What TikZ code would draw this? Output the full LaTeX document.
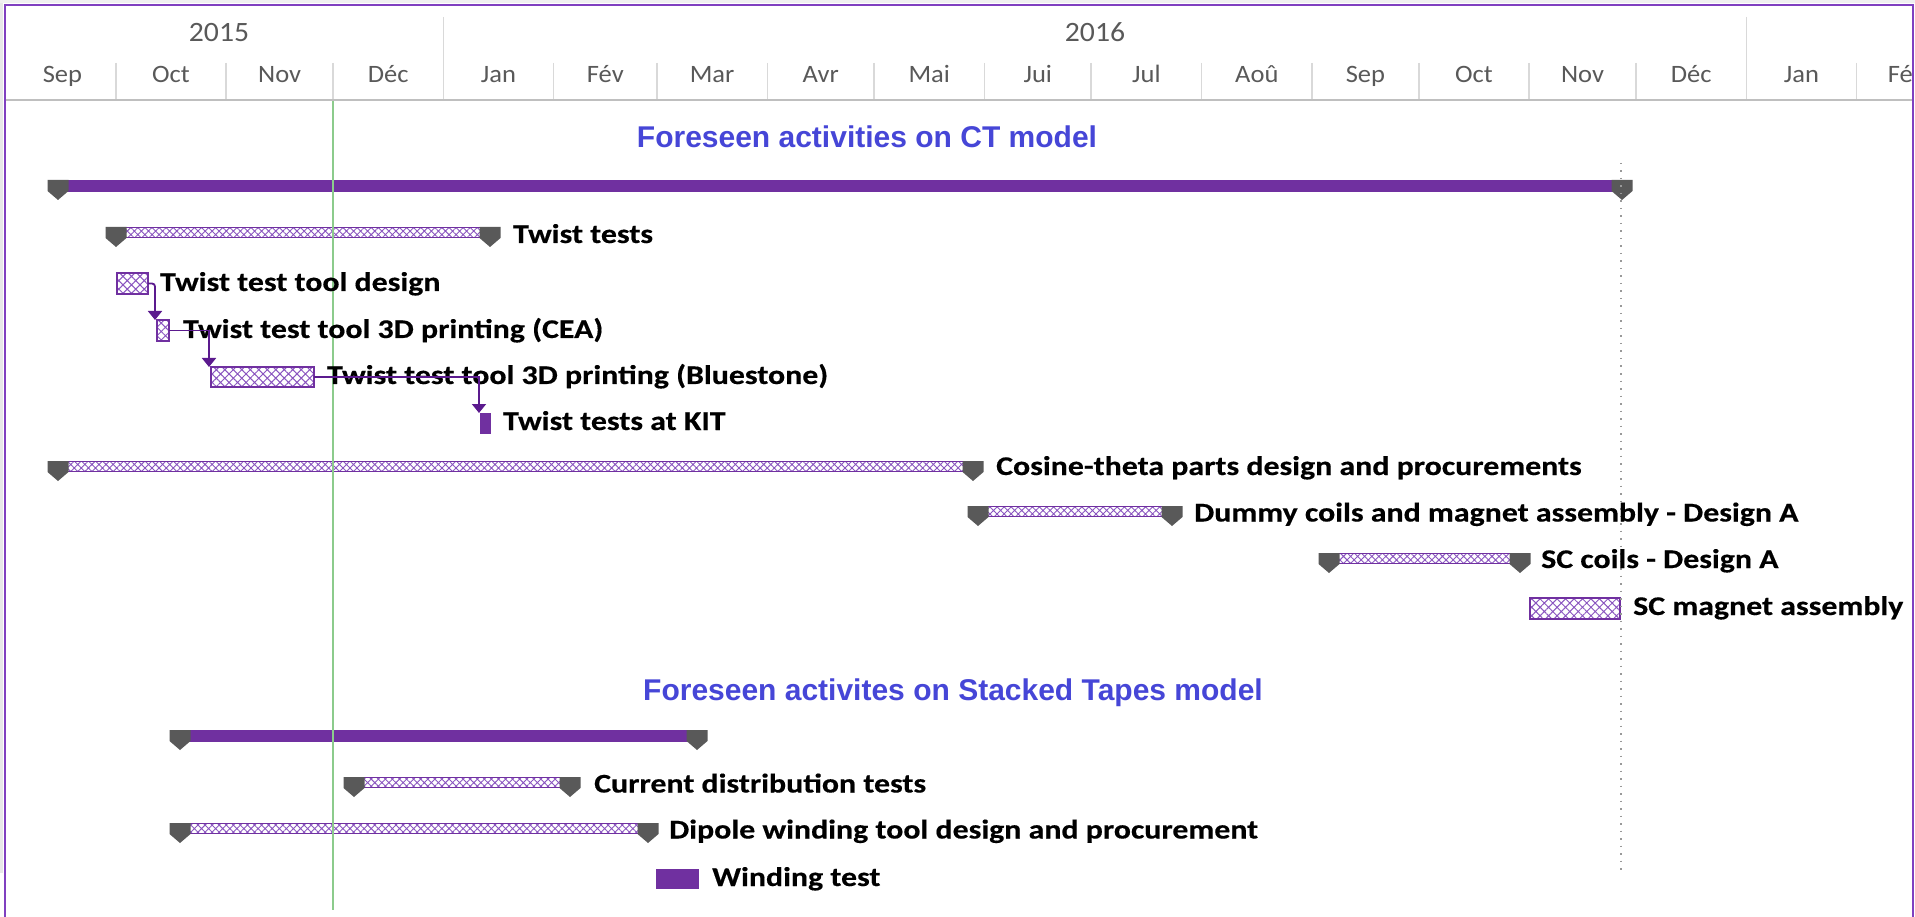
\documentclass[tikz,border=0pt]{standalone}
\usepackage{fontspec}
\setmainfont{Carlito}
\newfontfamily\arialf{Liberation Sans}
\newfontfamily\lblfont{Carlito}[FakeStretch=1.18,FakeBold=0.4]
\newfontfamily\hdrfont{Carlito}[FakeStretch=1.06]
\usetikzlibrary{patterns.meta,arrows.meta,calc}
\definecolor{pur}{HTML}{7030A0}
\definecolor{hatchc}{HTML}{8A55C0}
\definecolor{markc}{HTML}{595959}
\definecolor{connc}{HTML}{5B1A8E}
\definecolor{titlec}{RGB}{70,70,215}
\definecolor{hdrtxt}{HTML}{595959}
\definecolor{sepc}{HTML}{D9D9D9}
\definecolor{framec}{HTML}{8040C0}
\definecolor{todayc}{HTML}{8CCB8C}
\tikzset{
  sumbar/.style={fill=pur, draw=none, inner sep=0pt, outer sep=0pt},
  hatchbar/.style={draw=pur, line width=1.2pt, pattern={Hatch[distance=5pt,angle=45,line width=0.9pt]}, pattern color=hatchc, inner sep=0pt, outer sep=0pt},
  hatchbox/.style={draw=pur, line width=1.5pt, pattern={Hatch[distance=6pt,angle=45,line width=1pt]}, pattern color=hatchc, inner sep=0pt, outer sep=0pt},
  solidbox/.style={fill=pur, draw=none, inner sep=0pt, outer sep=0pt},
  lbl/.style={font=\lblfont\bfseries\fontsize{27}{30}\selectfont, anchor=base west, inner sep=0pt, text=black},
  ttl/.style={font=\arialf\bfseries\fontsize{30}{34}\selectfont, anchor=base, inner sep=0pt, text=titlec},
  month/.style={font=\hdrfont\fontsize{25}{30}\selectfont, anchor=base, inner sep=0pt, text=hdrtxt},
  yearlbl/.style={font=\hdrfont\fontsize{28}{30}\selectfont, anchor=base, inner sep=0pt, text=hdrtxt},
  conn/.style={draw=connc, line width=1.8pt, -{Triangle[width=14pt,length=9pt]}},
}
\newcommand\GMark[2]{%
  \fill[markc] ({#1-10.5},{#2}) -- ({#1+10.5},{#2}) -- ({#1+10.5},{#2+11}) -- ({#1},{#2+20}) -- ({#1-10.5},{#2+11}) -- cycle;}
\newcommand\GSum[4]{%
  \node[sumbar, minimum width={(#3)-(#2)}, minimum height=12, anchor=north west] (#1) at (#2,#4) {};
  \GMark{#2}{#4}\GMark{#3}{#4}}
\newcommand\GHat[4]{%
  \node[hatchbar, minimum width={(#3)-(#2)}, minimum height=10, anchor=north west] (#1) at (#2,{#4+0.5}) {};
  \GMark{#2}{#4}\GMark{#3}{#4}}
\newcommand\GBox[6]{%
  \node[#1, minimum width={(#4)-(#3)}, minimum height=#6, anchor=north west] (#2) at (#3,#5) {};}
\begin{document}
\begin{tikzpicture}[x=1pt,y=-1pt]
\useasboundingbox (0,0) rectangle (1915,917);
\fill[white] (0,0) rectangle (1915,917);
% shadow and frame
\fill[gray!18] (0,0) rectangle (3,873);
\fill[gray!12] (0,0) rectangle (1915,3);
\draw[framec, line width=2pt] (5,917) -- (5,5) -- (1913,5) -- (1913,917);
% header
\begin{scope}
\clip (6,6) rectangle (1912,101);
\foreach \a/\b/\m [count=\i] in {9/115.8/Sep,115.8/226.2/Oct,226.2/333/Nov,333/443.3/Déc,443.3/553.7/Jan,553.7/656.9/Fév,656.9/767.3/Mar,767.3/874.1/Avr,874.1/984.4/Mai,984.4/1091.2/Jui,1091.2/1201.6/Jul,1201.6/1312/Aoû,1312/1418.8/Sep,1418.8/1529.1/Oct,1529.1/1635.9/Nov,1635.9/1746.3/Déc,1746.3/1856.6/Jan,1856.6/1956/Fév}{
  \node[month] (m\i) at ({(\a+\b)/2},83) {\m};
  \draw[sepc, line width=1.5pt] (\b,63) -- (\b,100);
}
\draw[sepc, line width=1.5pt] (443.3,17) -- (443.3,100);
\draw[sepc, line width=1.5pt] (1746.3,17) -- (1746.3,100);
\node[yearlbl] (y2015) at (219,42) {2015};
\node[yearlbl] (y2016) at (1095,42) {2016};
\end{scope}
\draw[gray!50, line width=2pt] (6,100) -- (1912,100);
% titles
\node[ttl] (t1) at (867,148) {Foreseen activities on CT model};
\node[ttl] (t2) at (953,700.5) {Foreseen activites on Stacked Tapes model};
% CT model bars
\GSum{sum1}{58}{1622}{180}
\GHat{twist}{116}{490}{227}
\GBox{hatchbox}{design}{117}{148}{273}{21}
\GBox{hatchbox}{cea}{157}{169}{320}{21}
\GBox{hatchbox}{blue}{211}{314}{367}{20}
\GBox{solidbox}{kit}{480}{491}{413}{21}
\GHat{cos}{58}{973}{461}
\GHat{dummy}{978}{1172}{506}
\GHat{sccoils}{1329}{1520}{553}
\GBox{hatchbox}{scmag}{1530}{1620}{598}{21}
% Stacked tapes bars
\GSum{sum2}{180}{697}{730}
\GHat{curr}{354}{570}{777}
\GHat{dipole}{180}{648}{823}
\GBox{solidbox}{wind}{656}{699}{869}{20}
% today and finish lines
\coordinate (tdtop) at (333,101);
\coordinate (tdbot) at (333,910);
\draw[todayc, line width=1.5pt] (tdtop) -- (tdbot);
\coordinate (fintop) at (1621,163);
\coordinate (finbot) at (1621,873);
\draw[gray!80, line width=1.5pt, dash pattern=on 1.5pt off 6pt] (fintop) -- (finbot);
% labels
\node[lbl] (twist-l) at (513,243) {Twist tests};
\node[lbl] (design-l) at (160,291) {Twist test tool design};
\node[lbl] (cea-l) at (183,338) {Twist test tool 3D printing (CEA)};
\node[lbl] (blue-l) at (327,384) {Twist test tool 3D printing (Bluestone)};
\node[lbl] (kit-l) at (503,430) {Twist tests at KIT};
\node[lbl] (cos-l) at (996,475) {Cosine-theta parts design and procurements};
\node[lbl] (dummy-l) at (1194,521.5) {Dummy coils and magnet assembly - Design A};
\node[lbl] (sccoils-l) at (1541,568) {SC coils - Design A};
\node[lbl] (scmag-l) at (1633,615) {SC magnet assembly};
\node[lbl] (curr-l) at (594,792.5) {Current distribution tests};
\node[lbl] (dipole-l) at (669,838.5) {Dipole winding tool design and procurement};
\node[lbl] (wind-l) at (712,886) {Winding test};
% links
\draw[conn, rounded corners=3pt] (design.east) -| ($(cea.north west)+(-2,0)$);
\draw[conn] (cea.east) -| ($(blue.north west)+(-2,0)$);
\draw[conn] (blue.east) -| ($(kit.north west)+(-1,0)$);
\end{tikzpicture}
\end{document}
